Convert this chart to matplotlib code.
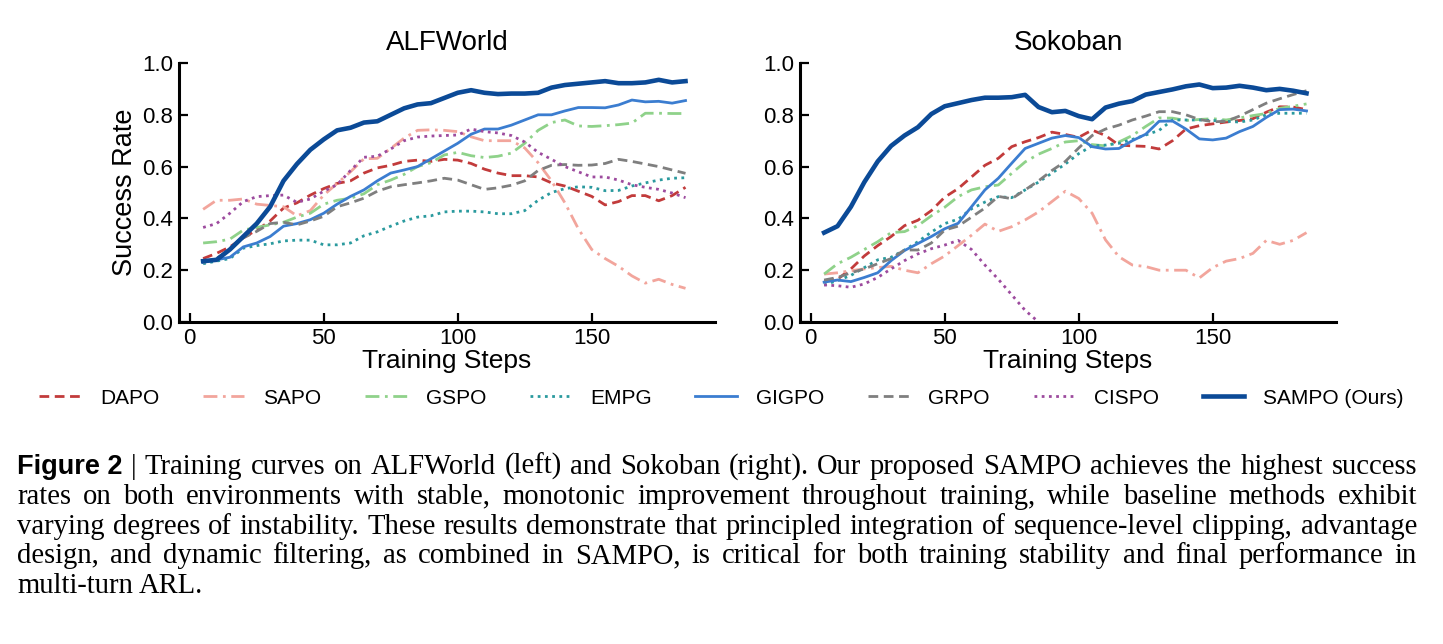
import matplotlib
matplotlib.use("Agg")
import matplotlib.pyplot as plt
import matplotlib.transforms as mtransforms

# training steps (x) shared by all curves
steps = list(range(5, 186, 5))

# ALFWorld success rates
alf_dapo = [0.245, 0.265, 0.29, 0.325, 0.355, 0.39, 0.44, 0.46, 0.49, 0.515, 0.535, 0.545, 0.575, 0.595, 0.605, 0.62, 0.625, 0.62, 0.628,
            0.625, 0.612, 0.59, 0.575, 0.565, 0.565, 0.56, 0.537, 0.525, 0.505, 0.485, 0.452, 0.465, 0.488, 0.488, 0.468, 0.488, 0.52]
alf_sapo = [0.435, 0.47, 0.47, 0.475, 0.455, 0.45, 0.445, 0.41, 0.43, 0.49, 0.535, 0.58, 0.63, 0.632, 0.67, 0.71, 0.74, 0.742, 0.74,
            0.735, 0.715, 0.70, 0.70, 0.70, 0.672, 0.615, 0.545, 0.46, 0.36, 0.28, 0.245, 0.215, 0.178, 0.15, 0.165, 0.145, 0.13]
alf_gspo = [0.305, 0.31, 0.32, 0.355, 0.365, 0.375, 0.385, 0.405, 0.42, 0.455, 0.47, 0.478, 0.495, 0.53, 0.548, 0.57, 0.60, 0.615, 0.645,
            0.655, 0.642, 0.635, 0.64, 0.652, 0.69, 0.74, 0.77, 0.78, 0.757, 0.755, 0.758, 0.762, 0.768, 0.806, 0.806, 0.805, 0.805]
alf_empg = [0.225, 0.235, 0.245, 0.285, 0.295, 0.302, 0.313, 0.316, 0.316, 0.298, 0.298, 0.305, 0.333, 0.348, 0.37, 0.39, 0.405, 0.41, 0.425,
            0.428, 0.428, 0.425, 0.418, 0.418, 0.43, 0.47, 0.50, 0.515, 0.522, 0.52, 0.507, 0.508, 0.525, 0.537, 0.548, 0.555, 0.557]
alf_gigpo = [0.23, 0.24, 0.25, 0.29, 0.305, 0.33, 0.37, 0.38, 0.395, 0.42, 0.455, 0.485, 0.51, 0.545, 0.575, 0.587, 0.60, 0.63, 0.66,
             0.69, 0.725, 0.745, 0.745, 0.76, 0.78, 0.80, 0.80, 0.815, 0.828, 0.828, 0.827, 0.838, 0.857, 0.85, 0.852, 0.845, 0.855]
alf_grpo = [0.23, 0.245, 0.28, 0.325, 0.35, 0.38, 0.385, 0.375, 0.39, 0.408, 0.445, 0.46, 0.478, 0.505, 0.522, 0.53, 0.537, 0.545, 0.555,
            0.548, 0.53, 0.512, 0.518, 0.528, 0.545, 0.585, 0.605, 0.608, 0.605, 0.606, 0.612, 0.628, 0.62, 0.61, 0.60, 0.587, 0.574]
alf_cispo = [0.365, 0.38, 0.42, 0.465, 0.484, 0.488, 0.49, 0.462, 0.475, 0.505, 0.53, 0.585, 0.636, 0.64, 0.668, 0.70, 0.714, 0.718, 0.72,
             0.722, 0.745, 0.735, 0.73, 0.72, 0.695, 0.655, 0.628, 0.60, 0.58, 0.56, 0.56, 0.548, 0.53, 0.52, 0.512, 0.498, 0.48]
alf_sampo = [0.235, 0.24, 0.28, 0.33, 0.38, 0.445, 0.545, 0.61, 0.665, 0.705, 0.74, 0.75, 0.77, 0.775, 0.80, 0.825, 0.84, 0.845, 0.865,
             0.885, 0.895, 0.885, 0.88, 0.882, 0.882, 0.885, 0.905, 0.915, 0.92, 0.925, 0.93, 0.922, 0.922, 0.925, 0.935, 0.925, 0.93]

# Sokoban success rates
sok_dapo = [0.16, 0.165, 0.205, 0.255, 0.295, 0.33, 0.372, 0.393, 0.43, 0.482, 0.515, 0.56, 0.605, 0.632, 0.677, 0.696, 0.712, 0.733, 0.724,
            0.713, 0.741, 0.72, 0.683, 0.68, 0.678, 0.668, 0.70, 0.745, 0.758, 0.765, 0.772, 0.778, 0.785, 0.81, 0.831, 0.83, 0.82]
sok_sapo = [0.185, 0.19, 0.198, 0.205, 0.21, 0.215, 0.20, 0.19, 0.225, 0.255, 0.295, 0.335, 0.378, 0.35, 0.368, 0.394, 0.425, 0.465, 0.505,
            0.477, 0.42, 0.317, 0.252, 0.22, 0.214, 0.20, 0.20, 0.20, 0.17, 0.21, 0.235, 0.245, 0.265, 0.315, 0.30, 0.315, 0.345]
sok_gspo = [0.185, 0.225, 0.25, 0.28, 0.31, 0.345, 0.349, 0.372, 0.41, 0.443, 0.484, 0.51, 0.522, 0.529, 0.574, 0.618, 0.648, 0.67, 0.695,
            0.70, 0.685, 0.68, 0.695, 0.72, 0.755, 0.788, 0.787, 0.778, 0.782, 0.785, 0.78, 0.788, 0.797, 0.805, 0.825, 0.833, 0.842]
sok_empg = [0.143, 0.16, 0.18, 0.21, 0.24, 0.25, 0.278, 0.31, 0.347, 0.38, 0.397, 0.437, 0.463, 0.484, 0.48, 0.51, 0.54, 0.575, 0.61,
            0.65, 0.68, 0.683, 0.69, 0.705, 0.722, 0.74, 0.78, 0.78, 0.78, 0.778, 0.775, 0.772, 0.78, 0.80, 0.806, 0.806, 0.806]
sok_gigpo = [0.154, 0.162, 0.156, 0.172, 0.19, 0.237, 0.276, 0.303, 0.33, 0.36, 0.381, 0.445, 0.51, 0.555, 0.613, 0.67, 0.69, 0.71, 0.72,
             0.712, 0.677, 0.668, 0.67, 0.70, 0.725, 0.775, 0.776, 0.745, 0.707, 0.703, 0.71, 0.735, 0.755, 0.79, 0.82, 0.822, 0.815]
sok_grpo = [0.162, 0.172, 0.19, 0.205, 0.225, 0.245, 0.278, 0.278, 0.305, 0.355, 0.37, 0.405, 0.44, 0.485, 0.476, 0.51, 0.545, 0.585, 0.62,
            0.672, 0.72, 0.745, 0.76, 0.78, 0.795, 0.812, 0.812, 0.80, 0.782, 0.773, 0.775, 0.795, 0.82, 0.845, 0.862, 0.878, 0.893]
# CISPO collapses to zero around step 85
sok_cispo = [0.143, 0.14, 0.134, 0.147, 0.172, 0.205, 0.237, 0.263, 0.283, 0.297, 0.315, 0.28, 0.22, 0.165, 0.105, 0.045, 0.0]
sok_sampo = [0.345, 0.37, 0.445, 0.54, 0.62, 0.68, 0.72, 0.752, 0.803, 0.833, 0.845, 0.857, 0.866, 0.866, 0.868, 0.877, 0.83, 0.81, 0.815,
             0.795, 0.783, 0.828, 0.843, 0.853, 0.878, 0.888, 0.898, 0.91, 0.917, 0.903, 0.905, 0.912, 0.905, 0.895, 0.90, 0.893, 0.883]

methods = ["DAPO", "SAPO", "GSPO", "EMPG", "GIGPO", "GRPO", "CISPO", "SAMPO (Ours)"]
alf_data = [alf_dapo, alf_sapo, alf_gspo, alf_empg, alf_gigpo, alf_grpo, alf_cispo, alf_sampo]
sok_data = [sok_dapo, sok_sapo, sok_gspo, sok_empg, sok_gigpo, sok_grpo, sok_cispo, sok_sampo]

colors = ["#c23b3b", "#f2a59c", "#8fd28a", "#2a9a9e", "#3b7dd0", "#7f7f7f", "#9d4b9e", "#0b4a97"]
styles = [(0, (3.5, 2)), (0, (5, 2, 1, 2)), (0, (5, 2, 1, 2)), (0, (1, 1.6)),
          "-", (0, (3.5, 2)), (0, (1, 1.6)), "-"]
widths = [2.0, 2.0, 2.0, 2.0, 2.0, 2.0, 2.0, 3.3]

plt.rcParams["font.family"] = ["Liberation Sans", "DejaVu Sans"]

fig = plt.figure(figsize=(14.43, 6.44), dpi=100)
ax1 = fig.add_axes([179 / 1443, 0.5, 536 / 1443, 259 / 644])
ax2 = fig.add_axes([800 / 1443, 0.5, 536 / 1443, 259 / 644])

for ax, data, title in [(ax1, alf_data, "ALFWorld"), (ax2, sok_data, "Sokoban")]:
    for name, ys, c, ls, lw in zip(methods, data, colors, styles, widths):
        ax.plot(steps[:len(ys)], ys, color=c, linestyle=ls, lw=lw, label=name)
    ax.set_xlim(-4, 196)
    ax.set_ylim(0, 1.0)
    ax.set_xticks([0, 50, 100, 150])
    ax.set_yticks([0.0, 0.2, 0.4, 0.6, 0.8, 1.0])
    ax.set_yticklabels(["0.0", "0.2", "0.4", "0.6", "0.8", "1.0"])
    for s in ["top", "right"]:
        ax.spines[s].set_visible(False)
    for s in ["left", "bottom"]:
        ax.spines[s].set_linewidth(2.2)
    ax.tick_params(direction="in", length=6.5, width=1.6, labelsize=16, pad=4)
    ax.set_title(title, fontsize=20, pad=9)
    ax.set_xlabel("Training Steps", fontsize=19, labelpad=0)

ax1.set_ylabel("Success Rate", fontsize=19.5, labelpad=3)

handles, labels = ax1.get_legend_handles_labels()
fig.legend(handles, labels, loc="center", bbox_to_anchor=(0.5, 1 - 398 / 644), ncol=8,
           frameon=False, fontsize=15, handlelength=2.0, handletextpad=0.9, columnspacing=2.1)

# caption, justified line by line
serif = dict(family=["Liberation Serif", "DejaVu Serif"], fontsize=20.6, color="black")
bold = dict(family=["Liberation Sans", "DejaVu Sans"], fontsize=19.5, weight="bold", color="black")

caption_lines = [
    "Training curves on ALFWorld (left) and Sokoban (right).  Our proposed SAMPO achieves the highest success",
    "rates on both environments with stable, monotonic improvement throughout training, while baseline methods exhibit",
    "varying degrees of instability.  These results demonstrate that principled integration of sequence-level clipping, advantage",
    "design, and dynamic filtering, as combined in SAMPO, is critical for both training stability and final performance in",
    "multi-turn ARL.",
]

renderer = fig.canvas.get_renderer()
ident = mtransforms.IdentityTransform()
x_left, x_right = 17, 1417
baseline0, line_gap = 474, 29.8

for i, line in enumerate(caption_lines):
    parts = [(w, serif) for w in line.split()]
    if i == 0:
        parts = [("Figure 2", bold), ("|", serif)] + parts
    y = 644 - (baseline0 + i * line_gap)
    texts = [fig.text(0, y, w, transform=ident, va="baseline", ha="left", **p) for w, p in parts]
    ws = [t.get_window_extent(renderer=renderer).width for t in texts]
    if i < len(caption_lines) - 1:
        gap = (x_right - x_left - sum(ws)) / (len(ws) - 1)
    else:
        gap = 5.8
    x = x_left
    for t, w in zip(texts, ws):
        t.set_x(x)
        x += w + gap

fig.savefig("out.png", dpi=100)
